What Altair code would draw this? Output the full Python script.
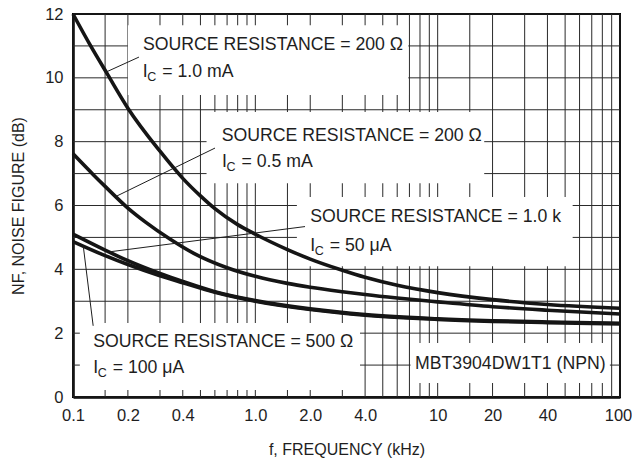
import altair as alt
import pandas as pd

# Frequency grid (kHz) and the values that get a tick label
freq_grid = [0.1, 0.15, 0.2, 0.3, 0.4, 0.5, 0.6, 0.7, 0.8, 0.9,
             1, 1.5, 2, 3, 4, 5, 6, 7, 8, 9,
             10, 15, 20, 30, 40, 50, 60, 70, 80, 90, 100]
freq_labels = [0.1, 0.2, 0.4, 1, 2, 4, 10, 20, 40, 100]
nf_grid = list(range(0, 13))

# Noise figure curves (dB)
f_a = [0.1, 0.125, 0.155, 0.2, 0.3, 0.4, 0.5, 0.6, 0.8, 1.0, 1.5, 2.0, 3.0, 4.0, 6.0, 10, 20, 40, 100]
nf_a = [12.0, 11.0, 10.1, 9.05, 7.7, 6.85, 6.3, 5.9, 5.4, 5.1, 4.62, 4.32, 3.97, 3.75, 3.5, 3.27, 3.05, 2.9, 2.78]

f_b = [0.1, 0.13, 0.15, 0.2, 0.25, 0.34, 0.46, 0.7, 1.0, 1.5, 2, 3, 4, 6, 10, 20, 40, 100]
nf_b = [7.62, 6.95, 6.6, 5.92, 5.48, 4.95, 4.5, 4.05, 3.78, 3.56, 3.44, 3.3, 3.21, 3.1, 2.98, 2.83, 2.72, 2.6]

f_cd = [0.1, 0.15, 0.2, 0.3, 0.4, 0.6, 1.0, 2.0, 4.0, 10, 20, 40, 100]
nf_c = [5.1, 4.6, 4.27, 3.87, 3.62, 3.3, 3.02, 2.76, 2.58, 2.45, 2.39, 2.35, 2.31]
nf_d = [4.87, 4.43, 4.15, 3.8, 3.58, 3.28, 3.0, 2.74, 2.56, 2.43, 2.37, 2.33, 2.29]

# Label boxes (white masks over the grid)
box_f0 = [0.2, 0.54, 1.69, 0.109, 7.1]
box_f1 = [6.9, 18, 55, 3.75, 88]
box_nf0 = [9.46, 6.70, 4.10, 0.22, 0.44]
box_nf1 = [11.65, 8.93, 6.27, 2.32, 1.69]

# Label text
head_text = ["SOURCE RESISTANCE = 200 \u03a9", "SOURCE RESISTANCE = 200 \u03a9",
             "SOURCE RESISTANCE = 1.0 k", "SOURCE RESISTANCE = 500 \u03a9",
             "MBT3904DW1T1 (NPN)"]
head_f = [0.242, 0.654, 2.0, 0.129, 7.51]
head_nf = [10.88, 8.03, 5.47, 1.56, 0.88]

ic_text = ["= 1.0 mA", "= 0.5 mA", "= 50 \u03bcA", "= 100 \u03bcA"]
ic_f = [0.241, 0.656, 2.0, 0.129]
ic_nf = [10.03, 7.2, 4.58, 0.75]

# Leader lines from labels to curves
lead_f0 = [0.1517, 0.1743, 0.1596, 0.1139]
lead_nf0 = [10.18, 6.3, 4.55, 4.72]
lead_f1 = [0.230, 0.601, 1.873, 0.129]
lead_nf1 = [10.65, 7.80, 5.34, 2.23]

FONT = "Liberation Sans"
INK = "#1e1e1e"

curves = pd.concat([
    pd.DataFrame({"f": f_a, "nf": nf_a, "curve": "a"}),
    pd.DataFrame({"f": f_b, "nf": nf_b, "curve": "b"}),
    pd.DataFrame({"f": f_cd, "nf": nf_c, "curve": "c"}),
    pd.DataFrame({"f": f_cd, "nf": nf_d, "curve": "d"}),
], ignore_index=True)
vgrid = pd.DataFrame({"f": freq_grid})
hgrid = pd.DataFrame({"nf": nf_grid})
boxes = pd.DataFrame({"f0": box_f0, "f1": box_f1, "nf0": box_nf0, "nf1": box_nf1})
heads = pd.DataFrame({"f": head_f, "nf": head_nf, "text": head_text})
ics = pd.DataFrame({"f": ic_f, "nf": ic_nf, "text": ic_text})
leads = pd.DataFrame({"f0": lead_f0, "nf0": lead_nf0, "f1": lead_f1, "nf1": lead_nf1})

label_list = ",".join(str(v) for v in freq_labels)
x_label_expr = (f"indexof([{label_list}], datum.value) >= 0 ? "
                "(datum.value < 10 ? format(datum.value, '.1f') : format(datum.value, 'd')) : ''")

xscale = alt.Scale(type="log", domain=[0.1, 100], nice=False)
yscale = alt.Scale(domain=[0, 12], nice=False, zero=False)

x_axis = alt.Axis(values=freq_grid, labelExpr=x_label_expr, labelOverlap=False,
                  labelFlush=False, tickSize=0, grid=False,
                  labelOffset={"expr": "datum.value == 100 ? -2 : 0"},
                  domainColor="black", domainWidth=2.5,
                  labelFont=FONT, labelFontSize=16.5, labelColor=INK, labelPadding=10,
                  title="f, FREQUENCY (kHz)", titleFont=FONT, titleFontSize=16,
                  titleFontWeight="normal", titleColor=INK, titleY=57,
                  titleBaseline="alphabetic")
y_axis = alt.Axis(values=nf_grid, labelExpr="datum.value % 2 === 0 ? datum.label : ''",
                  labelOverlap=False, tickSize=0, grid=False,
                  domainColor="black", domainWidth=2.5,
                  labelFont=FONT, labelFontSize=16.5, labelColor=INK, labelPadding=10,
                  labelBaseline="middle",
                  title="NF, NOISE FIGURE (dB)", titleFont=FONT, titleFontSize=16,
                  titleFontWeight="normal", titleColor=INK, titleAngle=270,
                  titleX=-50, titleY=191.5, titleAlign="center", titleBaseline="alphabetic")

grid_color = "#2a2a2a"
vlines = alt.Chart(vgrid).mark_rule(color=grid_color, strokeWidth=1).encode(
    x=alt.X("f:Q", scale=xscale, axis=x_axis))
hlines = alt.Chart(hgrid).mark_rule(color=grid_color, strokeWidth=1).encode(
    y=alt.Y("nf:Q", scale=yscale, axis=y_axis))

masks = alt.Chart(boxes).mark_rect(fill="white", opacity=1).encode(
    x=alt.X("f0:Q", scale=xscale), x2="f1:Q",
    y=alt.Y("nf0:Q", scale=yscale), y2="nf1:Q",
)

lines = alt.Chart(curves).mark_line(color="#151515", strokeWidth=3.6, interpolate="monotone").encode(
    x=alt.X("f:Q", scale=xscale),
    y=alt.Y("nf:Q", scale=yscale),
    detail="curve:N",
)

leaders = alt.Chart(leads).mark_rule(color=INK, strokeWidth=1).encode(
    x=alt.X("f0:Q", scale=xscale), x2="f1:Q",
    y=alt.Y("nf0:Q", scale=yscale), y2="nf1:Q",
)

head_marks = alt.Chart(heads).mark_text(font=FONT, fontSize=17.7, align="left",
                                        baseline="alphabetic", color=INK).encode(
    x=alt.X("f:Q", scale=xscale), y=alt.Y("nf:Q", scale=yscale), text="text:N")

ic_i = alt.Chart(ics).mark_text(font=FONT, fontSize=17.7, align="left",
                                baseline="alphabetic", color=INK).encode(
    x=alt.X("f:Q", scale=xscale), y=alt.Y("nf:Q", scale=yscale), text=alt.value("I"))
ic_sub = alt.Chart(ics).mark_text(font=FONT, fontSize=12.5, align="left", dx=4.6, dy=4,
                                  baseline="alphabetic", color=INK).encode(
    x=alt.X("f:Q", scale=xscale), y=alt.Y("nf:Q", scale=yscale), text=alt.value("C"))
ic_rest = alt.Chart(ics).mark_text(font=FONT, fontSize=17.7, align="left", dx=19.5,
                                   baseline="alphabetic", color=INK).encode(
    x=alt.X("f:Q", scale=xscale), y=alt.Y("nf:Q", scale=yscale), text="text:N")

chart = alt.layer(vlines, hlines, masks, lines, leaders, head_marks, ic_i, ic_sub, ic_rest).properties(
    width=547, height=383,
    autosize=alt.AutoSizeParams(type="none"),
    padding={"left": 73, "top": 14, "right": 12, "bottom": 66},
    background="white",
).configure_view(stroke="black", strokeWidth=2)

chart.save("out.html", embed_options={"renderer": "svg", "actions": False})
